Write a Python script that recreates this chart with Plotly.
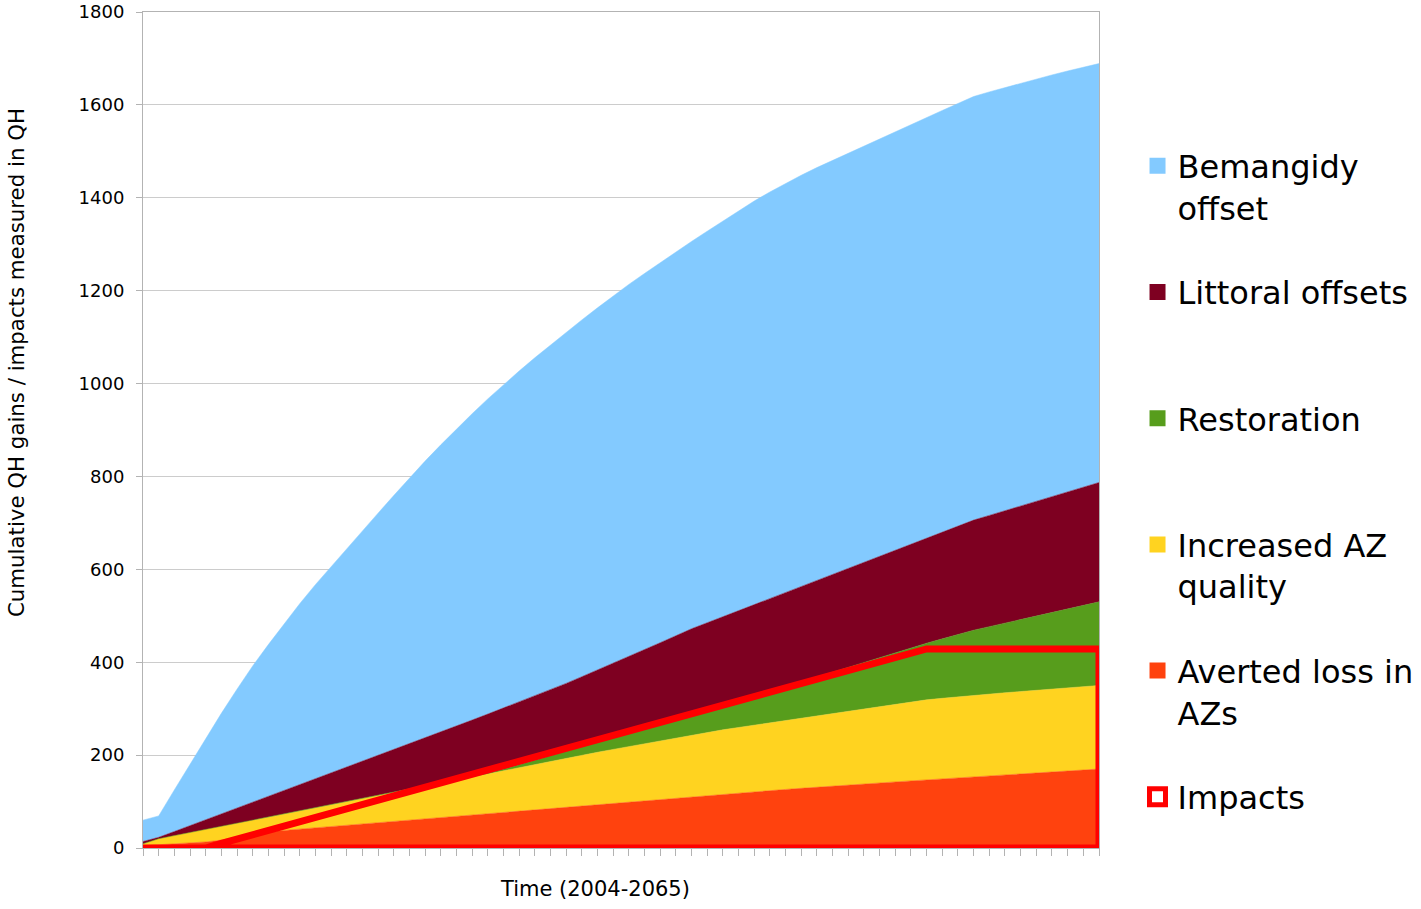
import plotly.graph_objects as go

years = list(range(2004, 2066))

averted_loss = [5, 7, 9, 11, 13, 17, 23, 29, 35.1, 37.9, 40.7, 43.5, 46.3, 49.1, 51.9, 54.7,
                57.5, 60.3, 63.2, 66.0, 68.8, 71.6, 74.4, 77.2, 80.0, 82.8, 85.6, 88.4, 91.3, 94.1,
                96.9, 99.7, 102.5, 105.3, 108.1, 110.9, 113.7, 116.2, 118.6, 121.1, 123.6, 126.1,
                128.5, 131.0, 133.5, 136.0, 138.1, 140.3, 142.4, 144.5, 146.6, 148.8, 150.9, 153.0,
                155.1, 157.3, 159.4, 161.5, 163.6, 165.8, 167.9, 170.0]

increased_quality = [4, 13, 17.7, 22.4, 27.1, 29.8, 30.5, 31.2, 31.8, 35.7, 39.6, 43.5, 47.4, 51.3,
                     55.2, 59.1, 63.0, 66.9, 70.7, 74.6, 78.5, 82.4, 86.3, 90.2, 94.1, 98.0, 101.9,
                     105.3, 108.6, 112.0, 115.4, 118.8, 122.2, 125.6, 129.0, 132.4, 135.8, 138.3,
                     140.9, 143.4, 145.9, 148.4, 151.0, 153.5, 156.0, 158.5, 161.3, 164.0, 166.8,
                     169.6, 172.4, 173.5, 174.8, 176.0, 176.5, 177.0, 177.5, 178.0, 178.5, 179.0,
                     179.5, 180.0]

restoration = [0, 0, 0, 0, 0, 0, 0, 0, 0, 0, 0, 0, 0, 0, 0, 0, 0, 0, 0, 0, 0, 0, 0,
               2, 5, 8, 11, 14, 17, 21, 24, 27, 31, 34, 38, 42, 46, 51.4, 56.9, 62.3, 67.7,
               73.1, 78.6, 84.0, 89.4, 94.9, 100.3, 105.7, 111.1, 116.6, 122, 128, 134, 140,
               145, 150, 155, 160, 165, 170, 175, 180]

littoral = [5, 3, 8.8, 14.7, 20.5, 26.3, 32.2, 38.0, 43.8, 49.7, 55.5, 61.3, 67.2, 73.0, 78.8,
            84.7, 90.5, 96.7, 102.9, 109.1, 115.3, 121.5, 127.7, 131.9, 135.1, 138.3, 141.5,
            146.7, 151.9, 156.1, 161.3, 166.5, 171.3, 177.1, 181.9, 186.7, 189.5, 192.1, 194.6,
            197.2, 199.8, 202.4, 204.9, 207.5, 210.1, 212.6, 215.3, 218.0, 220.7, 223.3, 226.0,
            229.7, 233.3, 237.0, 239.5, 242.0, 244.5, 247.0, 249.5, 252.0, 254.5, 257.0]

bemangidy = [46, 46, 89.5, 132.9, 175.4, 216.9, 256.3, 293.8, 327.3, 359.7, 390.2, 418.7, 445.1,
             470.6, 497.1, 522.5, 548.0, 573.1, 596.2, 618.3, 639.4, 659.5, 678.6, 696.7, 712.8,
             728.4, 743.0, 755.6, 768.2, 779.8, 790.9, 801.5, 810.0, 818.5, 826.5, 834.0, 843.0,
             852.0, 861.0, 869.0, 875.5, 881.0, 885.5, 889.0, 891.5, 894.0, 897.0, 899.0, 901.0,
             903.0, 906.0, 908.0, 910.0, 912.0, 911.9, 911.2, 910.6, 909.5, 907.9, 906.2, 904.1,
             902.0]

impacts = [0, 0, 0, 0, 0, 10, 19.3, 28.6, 37.9, 47.2, 56.5, 65.8, 75.1, 84.4, 93.7, 103.0,
           112.3, 121.6, 130.9, 140.2, 149.5, 158.8, 168.1, 177.4, 186.7, 196.0, 205.3, 214.6,
           223.9, 233.2, 242.5, 251.8, 261.1, 270.4, 279.7, 289.0, 298.3, 307.6, 316.9, 326.2,
           335.5, 344.8, 354.1, 363.4, 372.7, 382.0, 391.3, 400.6, 409.9, 419.2, 428.5, 428.5,
           428.5, 428.5, 428.5, 428.5, 428.5, 428.5, 428.5, 428.5, 428.5, 428.5]

series = [
    ("Averted loss in<br>AZs", averted_loss, "#ff420e", 5),
    ("Increased AZ<br>quality", increased_quality, "#ffd320", 4),
    ("Restoration<br>\u00a0", restoration, "#579d1c", 3),
    ("Littoral offsets<br>\u00a0", littoral, "#7e0021", 2),
    ("Bemangidy<br>offset", bemangidy, "#83caff", 1),
]

FONT = "DejaVu Sans, Liberation Sans, Arial, sans-serif"

fig = go.Figure()
for name, vals, color, rank in series:
    fig.add_trace(go.Scatter(
        x=years, y=vals, stackgroup="one", mode="lines",
        line=dict(width=0.5, color=color), fillcolor=color,
        name=name, legendgroup=name, showlegend=False, hoverinfo="x+y+name"))

# Impacts outline (area series drawn with border only)
imp_x = years + years[::-1] + [years[0]]
imp_y = impacts + [0] * len(years) + [impacts[0]]
fig.add_trace(go.Scatter(
    x=imp_x, y=imp_y, mode="lines", line=dict(color="#ff0000", width=7),
    name="Impacts", legendgroup="Impacts", showlegend=False))

# legend entries
for name, vals, color, rank in series:
    fig.add_trace(go.Scatter(
        x=[None], y=[None], mode="markers", name=name, legendgroup=name, legendrank=rank,
        marker=dict(symbol="square", size=16, color=color, line=dict(width=0))))
fig.add_trace(go.Scatter(
    x=[None], y=[None], mode="markers", name="Impacts", legendgroup="Impacts", legendrank=6,
    marker=dict(symbol="square", size=16, color="white", line=dict(color="#ff0000", width=5))))

axis_line = "#b3b3b3"
fig.update_layout(
    width=1421, height=909,
    margin=dict(l=143, r=322, t=12, b=61, autoexpand=False),
    paper_bgcolor="white", plot_bgcolor="white",
    font=dict(family=FONT, color="#000000"),
    showlegend=True,
    legend=dict(
        x=1.0403, xanchor="left", y=0.8487, yanchor="top",
        font=dict(family=FONT, size=32, color="#000000"),
        traceorder="grouped", tracegroupgap=40, valign="top",
        bgcolor="rgba(0,0,0,0)", itemwidth=30,
    ),
    xaxis=dict(
        range=[2004, 2065], tickmode="linear", tick0=2004, dtick=1,
        showticklabels=False, ticks="outside", ticklen=7, tickcolor=axis_line,
        showline=True, linecolor=axis_line, linewidth=1, mirror=True,
        showgrid=False, zeroline=False, automargin=False,
    ),
    yaxis=dict(
        range=[0, 1800], tickmode="linear", tick0=0, dtick=200,
        ticks="outside", ticklen=6, tickcolor=axis_line,
        showline=True, linecolor=axis_line, linewidth=1, mirror=True,
        showgrid=True, gridcolor="#cccccc", gridwidth=1, zeroline=False,
        tickfont=dict(family=FONT, size=18, color="#000000"),
        ticklabelstandoff=8, automargin=False,
    ),
    annotations=[
        dict(text="Time (2004-2065)", xref="paper", yref="paper",
             x=(595 - 143) / 956, y=(848 - 889) / 836, xanchor="center", yanchor="middle",
             showarrow=False, font=dict(family=FONT, size=21, color="#000000")),
        dict(text="Cumulative QH gains / impacts measured in QH", xref="paper", yref="paper",
             x=(16 - 143) / 956, y=(848 - 363) / 836, xanchor="center", yanchor="middle",
             textangle=-90, showarrow=False, font=dict(family=FONT, size=21.3, color="#000000")),
    ],
)

fig.write_html("out.html")
